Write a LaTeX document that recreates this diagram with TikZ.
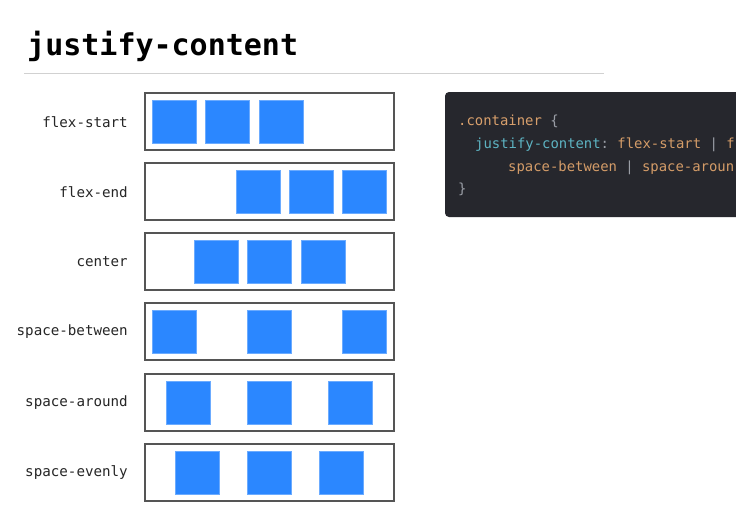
\documentclass[tikz,border=0pt]{standalone}
\usepackage{fontspec}
\setmonofont{DejaVu Sans Mono}
\definecolor{sq}{HTML}{2B87FF}
\definecolor{frame}{HTML}{555555}
\definecolor{codebg}{HTML}{26272D}
\definecolor{csel}{HTML}{D9A06C}
\definecolor{cprop}{HTML}{5DB3C2}
\definecolor{cval}{HTML}{D49C68}
\definecolor{cpun}{HTML}{9A9EA6}
\begin{document}
\begin{tikzpicture}[x=1pt,y=-1pt,
  outer/.style={draw=frame,line width=2.6pt,fill=white},
  item/.style={fill=sq,draw=sq!70!white,line width=0.4pt},
  lbl/.style={anchor=east,font=\ttfamily\fontsize{14.2}{16}\selectfont,text=black!85,inner sep=0pt},
  code/.style={anchor=base west,font=\ttfamily\fontsize{13.9}{16}\selectfont,inner sep=0pt}]
\useasboundingbox (0,0) rectangle (736,523);
\fill[white] (0,0) rectangle (736,523);
% title
\node[anchor=base west,inner sep=0pt,font=\ttfamily\bfseries\fontsize{30}{34}\selectfont] (title) at (27,55) {justify-content};
\draw[black!18,line width=1pt] (24,73) -- (604,73);
% rows
\foreach \name/\y/\a/\b/\c [count=\i] in {flex-start/93/152/205/259, flex-end/163/236/289/342, center/233/194/247/301, space-between/303/152/247/342, space-around/374/166/247/328, space-evenly/444/175/247/319}{
  \draw[outer] (145,\y) rectangle (394,\y+57);
  \node[lbl] (l\i) at (128,\y+29) {\name};
  \foreach \xx in {\a,\b,\c}{
    \draw[item] (\xx,\y+7) rectangle (\xx+44,\y+50);
  }
}
% code box
\begin{scope}
\clip (0,0) rectangle (736,523);
\fill[codebg,rounded corners=4pt] (445,92) rectangle (760,217);
\node[code] (c1) at (458,125) {\textcolor{csel}{.container} \textcolor{cpun}{\{}};
\node[code] (c2) at (475,148) {\textcolor{cprop}{justify-content}\textcolor{cpun}{:} \textcolor{cval}{flex-start} \textcolor{cpun}{|} \textcolor{cval}{f}};
\node[code] (c3) at (508,171) {\textcolor{cval}{space-between} \textcolor{cpun}{|} \textcolor{cval}{space-aroun}};
\node[code] (c4) at (458,193) {\textcolor{cpun}{\}}};
\end{scope}
\end{tikzpicture}
\end{document}
